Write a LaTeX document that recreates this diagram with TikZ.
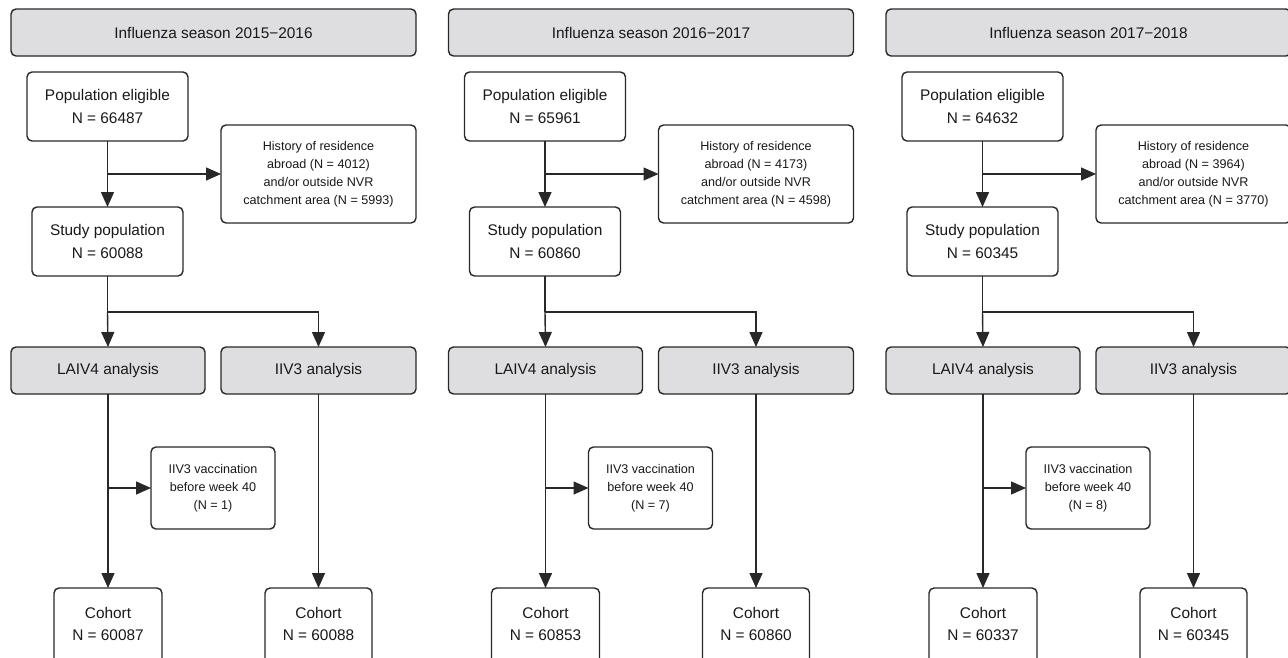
\documentclass[tikz,border=0pt]{standalone}
\usepackage{fontspec}
\setmainfont{Liberation Sans}
\usetikzlibrary{arrows.meta,calc}
\definecolor{boxgray}{RGB}{222,222,224}
\definecolor{lin}{RGB}{40,40,40}
\tikzset{
  bx/.style={draw=lin, line width=1.4pt, rounded corners=5pt, inner sep=0pt, outer sep=0pt, align=center, text=black!90},
  big/.style={font=\fontsize{15.4}{22.3}\selectfont},
  small/.style={font=\fontsize{12.6}{18}\selectfont},
  graybox/.style={bx, fill=boxgray, big},
  whitebox/.style={bx, fill=white},
  arr/.style={draw=lin, line width=1.4pt, -{Triangle[length=15pt,width=13pt]}},
  ln/.style={draw=lin, line width=1.4pt}
}
\newcommand\seasoncolumn[9]{%
\begin{scope}[xshift=#1pt]
  \node[graybox, minimum width=405pt, minimum height=47pt] (hd#2) at (213.5,32.5) {Influenza season #3};
  \node[whitebox, big, minimum width=161pt, minimum height=69pt] (pe#2) at (107.5,106.5) {Population eligible\\N = #4};
  \node[whitebox, small, minimum width=195pt, minimum height=98pt] (ex#2) at (318.5,174) {History of residence\\abroad (N = #5)\\and/or outside NVR\\catchment area (N = #6)};
  \node[whitebox, big, minimum width=151pt, minimum height=69pt] (sp#2) at (107.5,241.5) {Study population\\N = #7};
  \node[graybox, minimum width=194pt, minimum height=47pt] (la#2) at (108,370.5) {LAIV4 analysis};
  \node[graybox, minimum width=195pt, minimum height=47pt] (ii#2) at (318.5,370.5) {IIV3 analysis};
  \node[whitebox, small, minimum width=124pt, minimum height=82pt] (va#2) at (213,488) {IIV3 vaccination\\before week 40\\(N = #8)};
  \node[whitebox, big, minimum width=108pt, minimum height=76pt, anchor=north] (ca#2) at (108,588) {};
  \node[big, align=center, text=black!90] at (108,624) {Cohort\\N = #9};
  \node[whitebox, big, minimum width=107pt, minimum height=76pt, anchor=north] (cb#2) at (318.5,588) {};
  \coordinate (j1#2) at (pe#2.south |- ex#2.west);
  \coordinate (j2#2) at ($(sp#2.south)+(0,-36pt)$);
  \coordinate (j3#2) at (la#2.south |- va#2.west);
  \draw[arr] (pe#2.south) -- (sp#2.north);
  \draw[arr] (j1#2) -- (ex#2.west);
  \draw[ln] (sp#2.south) -- (j2#2);
  \draw[arr] (j2#2) -- (la#2.north);
  \draw[arr] (j2#2) -| (ii#2.north);
  \draw[arr] (la#2.south) -- (ca#2.north);
  \draw[arr] (j3#2) -- (va#2.west);
  \draw[arr] (ii#2.south) -- (cb#2.north);
\end{scope}}
\newcommand\cohortb[3]{\node[big, align=center, text=black!90] at (#1+318.5,624) {Cohort\\N = #3};}
\begin{document}
\begin{tikzpicture}[x=1pt,y=-1pt]
  \path[use as bounding box, clip] (0,0) rectangle (1288,657);
  \fill[white] (0,0) rectangle (1288,657);
  \seasoncolumn{0}{A}{2015−2016}{66487}{4012}{5993}{60088}{1}{60087}
  \cohortb{0}{A}{60088}
  \seasoncolumn{437.5}{B}{2016−2017}{65961}{4173}{4598}{60860}{7}{60853}
  \cohortb{437.5}{B}{60860}
  \seasoncolumn{875}{C}{2017−2018}{64632}{3964}{3770}{60345}{8}{60337}
  \cohortb{875}{C}{60345}
\end{tikzpicture}
\end{document}
